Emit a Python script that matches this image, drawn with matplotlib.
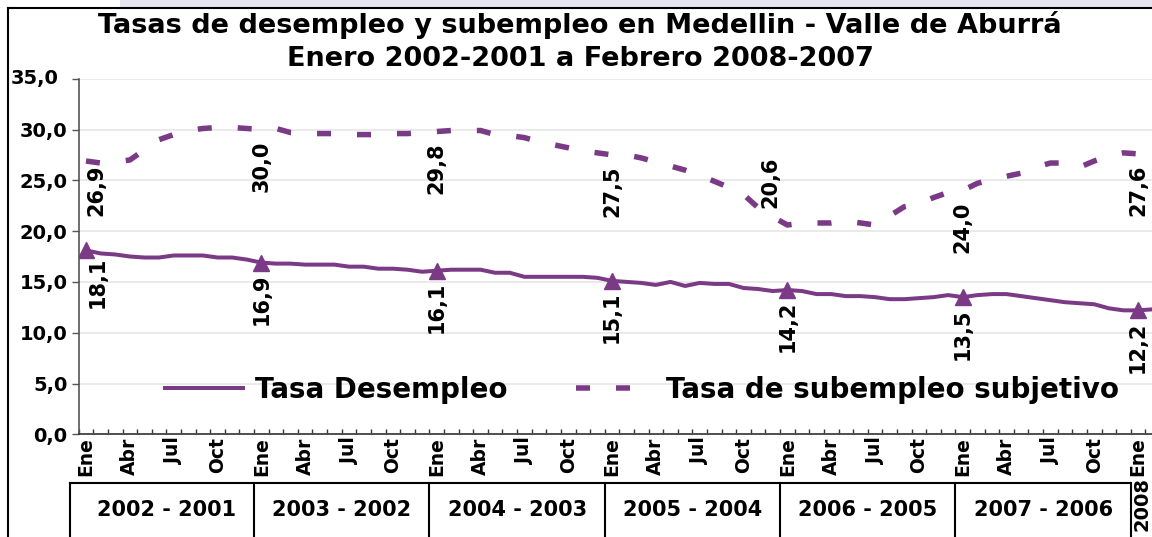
"""
Tasas de desempleo y subempleo, Medellin - Valle de Aburra, Ene 2002 - Feb 2008.
Recreation of the monthly line chart (trimestre movil) with Excel-style
two-level category axis.
"""

import numpy as np
import matplotlib
matplotlib.use("Agg")
import matplotlib.pyplot as plt
from matplotlib.lines import Line2D
from matplotlib.patches import Rectangle
from matplotlib.transforms import blended_transform_factory

# ----------------------------- data -----------------------------------------
MONTHS = ["Ene", "Feb", "Mar", "Abr", "May", "Jun",
          "Jul", "Ago", "Sep", "Oct", "Nov", "Dic"]
PERIODS = ["2002 - 2001", "2003 - 2002", "2004 - 2003", "2005 - 2004",
           "2006 - 2005", "2007 - 2006", "2008"]

# Tasa de desempleo (%), Ene 2002 .. Feb 2008
desempleo = [
    18.1, 17.8, 17.7, 17.5, 17.4, 17.4, 17.6, 17.6, 17.6, 17.4, 17.4, 17.2,
    16.9, 16.8, 16.8, 16.7, 16.7, 16.7, 16.5, 16.5, 16.3, 16.3, 16.2, 16.0,
    16.1, 16.2, 16.2, 16.2, 15.9, 15.9, 15.5, 15.5, 15.5, 15.5, 15.5, 15.4,
    15.1, 15.0, 14.9, 14.7, 15.0, 14.6, 14.9, 14.8, 14.8, 14.4, 14.3, 14.1,
    14.2, 14.1, 13.8, 13.8, 13.6, 13.6, 13.5, 13.3, 13.3, 13.4, 13.5, 13.7,
    13.5, 13.7, 13.8, 13.8, 13.6, 13.4, 13.2, 13.0, 12.9, 12.8, 12.4, 12.2,
    12.2, 12.3,
]

# Tasa de subempleo subjetivo (%), Ene 2002 .. Feb 2008
subempleo = [
    26.9, 26.7, 26.8, 27.0, 28.0, 29.0, 29.5, 29.9, 30.1, 30.2, 30.2, 30.1,
    30.0, 30.1, 29.7, 29.6, 29.6, 29.6, 29.5, 29.5, 29.5, 29.6, 29.6, 29.7,
    29.8, 29.9, 29.9, 29.9, 29.5, 29.4, 29.2, 28.8, 28.5, 28.2, 27.9, 27.7,
    27.5, 27.5, 27.2, 26.8, 26.4, 26.0, 25.5, 24.9, 24.3, 23.6, 22.3, 21.4,
    20.6, 20.8, 20.8, 20.8, 21.0, 20.8, 20.6, 21.5, 22.4, 22.7, 23.3, 23.8,
    24.0, 24.7, 25.1, 25.4, 25.7, 26.3, 26.7, 26.7, 26.3, 26.9, 27.4, 27.7,
    27.6, 27.7,
]

LABEL_MONTHS = ["Ene", "Abr", "Jul", "Oct"]
YTICKS = [0, 5, 10, 15, 20, 25, 30]

# ----------------------------- style ----------------------------------------
PURPLE = "#7b3a86"
W, H, DPI = 1152, 537, 100
plt.rcParams.update({"font.family": "DejaVu Sans", "font.weight": "bold",
                     "lines.scale_dashes": False})
DASH = (14 * 72.0 / DPI, 26 * 72.0 / DPI)


def px(v):
    """pixels -> points at DPI."""
    return v * 72.0 / DPI


def fmt(v):
    return f"{v:.1f}".replace(".", ",")


fig = plt.figure(figsize=(W / DPI, H / DPI), dpi=DPI)
fig.patch.set_facecolor("white")

# outer frame and pale band above it
fig.add_artist(Rectangle((120 / W, 1 - 8 / H), 1, 8 / H, transform=fig.transFigure,
                         color="#e6e6f3", lw=0))
fig.add_artist(Line2D([8 / W, 8 / W], [0, 1 - 8 / H], transform=fig.transFigure,
                      color="black", lw=1.5))
fig.add_artist(Line2D([8 / W, 1], [1 - 8 / H, 1 - 8 / H], transform=fig.transFigure,
                      color="black", lw=1.5))

# plot area: x 78.7 .. 1160 px, y 78.7 .. 434.3 px
ax = fig.add_axes([78.7 / W, (H - 434.3) / H, (1160 - 78.7) / W, (434.3 - 78.7) / H])
n = len(desempleo)
x = np.arange(n)

ax.plot(x, subempleo, color=PURPLE, lw=px(5.5), dashes=DASH,
        dash_capstyle="butt", label="Tasa de subempleo subjetivo", zorder=3)
ax.plot(x, desempleo, color=PURPLE, lw=px(4), label="Tasa Desempleo", zorder=3)
jan = x[::12]
ax.plot(jan, np.array(desempleo)[jan], ls="none", marker="^", ms=px(16),
        color=PURPLE, zorder=4)

ax.set_xlim(-0.5, n - 0.5)
ax.set_ylim(0, 35)

# grid / spines
ax.set_yticks(YTICKS + [35])
ax.set_yticklabels([fmt(v) for v in YTICKS] + [""], fontsize=14, fontweight="bold")
ax.yaxis.grid(True, color="#e6e6e6", lw=1.2)
ax.set_axisbelow(True)
for s in ("top", "right"):
    ax.spines[s].set_visible(False)
ax.spines["left"].set_color("#555555")
ax.spines["bottom"].set_color("#333333")
ax.spines["left"].set_linewidth(1.2)
ax.spines["bottom"].set_linewidth(1.2)
ax.tick_params(axis="y", direction="out", length=px(7), width=1, color="#555555",
               pad=px(4))
ax.annotate("35,0", xy=(0, 35), xycoords=("axes fraction", "data"),
            xytext=(px(-20), 0), textcoords="offset points", ha="right",
            va="center", fontsize=14, fontweight="bold")

# x axis: month labels at centers, ticks at category boundaries
lab_idx = [i for i in range(n) if MONTHS[i % 12] in LABEL_MONTHS]
ax.set_xticks(lab_idx)
ax.set_xticklabels([MONTHS[i % 12] for i in lab_idx], rotation=90,
                   fontsize=13.5, fontweight="bold")
ax.tick_params(axis="x", which="major", length=0, pad=px(3))
ax.set_xticks(np.arange(n + 1) - 0.5, minor=True)
ax.tick_params(axis="x", which="minor", direction="in", length=px(5), width=1,
               color="#333333")

# data labels at each January (below the point, a few nudged like the original)
low_off = {0: (px(12), px(-6))}
high_off = {0: (px(10), px(-4)), 48: (px(-17), px(17))}
for i in jan:
    ax.annotate(fmt(desempleo[i]), (i, desempleo[i]),
                xytext=low_off.get(i, (0, px(-11))), textcoords="offset points",
                rotation=90, ha="center", va="top", fontsize=15, fontweight="bold")
    ax.annotate(fmt(subempleo[i]), (i, subempleo[i]),
                xytext=high_off.get(i, (0, px(-11))), textcoords="offset points",
                rotation=90, ha="center", va="bottom" if i == 48 else "top",
                fontsize=15, fontweight="bold")

# legend
h1 = Line2D([], [], color=PURPLE, lw=px(4))
h2 = Line2D([], [], color=PURPLE, lw=px(5.5), dashes=DASH, dash_capstyle="butt")
fig.legend([h1, h2], ["Tasa Desempleo", "Tasa de subempleo subjetivo"],
           loc="center left", bbox_to_anchor=(165 / W, 1 - 390 / H),
           ncol=2, frameon=False, borderpad=0, borderaxespad=0,
           handlelength=2.8, handletextpad=0.45, columnspacing=2.45,
           prop={"size": 20, "weight": "bold"})

# period boxes under the axis
bt = blended_transform_factory(ax.transData, fig.transFigure)
top = 1 - 483 / H
edges = [-1.1] + [11.5 + 12 * k for k in range(6)]
ax.add_line(Line2D([edges[0], edges[-1]], [top, top], transform=bt, color="black",
                   lw=1.5, clip_on=False))
for e in edges:
    ax.add_line(Line2D([e, e], [0, top], transform=bt, color="black", lw=1.5,
                       clip_on=False))
for k, lab in enumerate(PERIODS[:-1]):
    ax.text(5.5 + 12 * k, 1 - 510 / H, lab, transform=bt, ha="center",
            va="center", fontsize=15, fontweight="bold")
ax.text(72.3, 1 - 504 / H, PERIODS[-1], transform=bt, ha="center", va="center",
        rotation=90, fontsize=14, fontweight="bold")

# title
fig.text(580 / W, 1 - 25 / H, "Tasas de desempleo y subempleo en Medellin - Valle de Aburrá",
         ha="center", va="center", fontsize=19.5, fontweight="bold")
fig.text(580 / W, 1 - 59 / H, "Enero 2002-2001 a Febrero 2008-2007",
         ha="center", va="center", fontsize=19.5, fontweight="bold")

fig.savefig("out.png", dpi=DPI)
